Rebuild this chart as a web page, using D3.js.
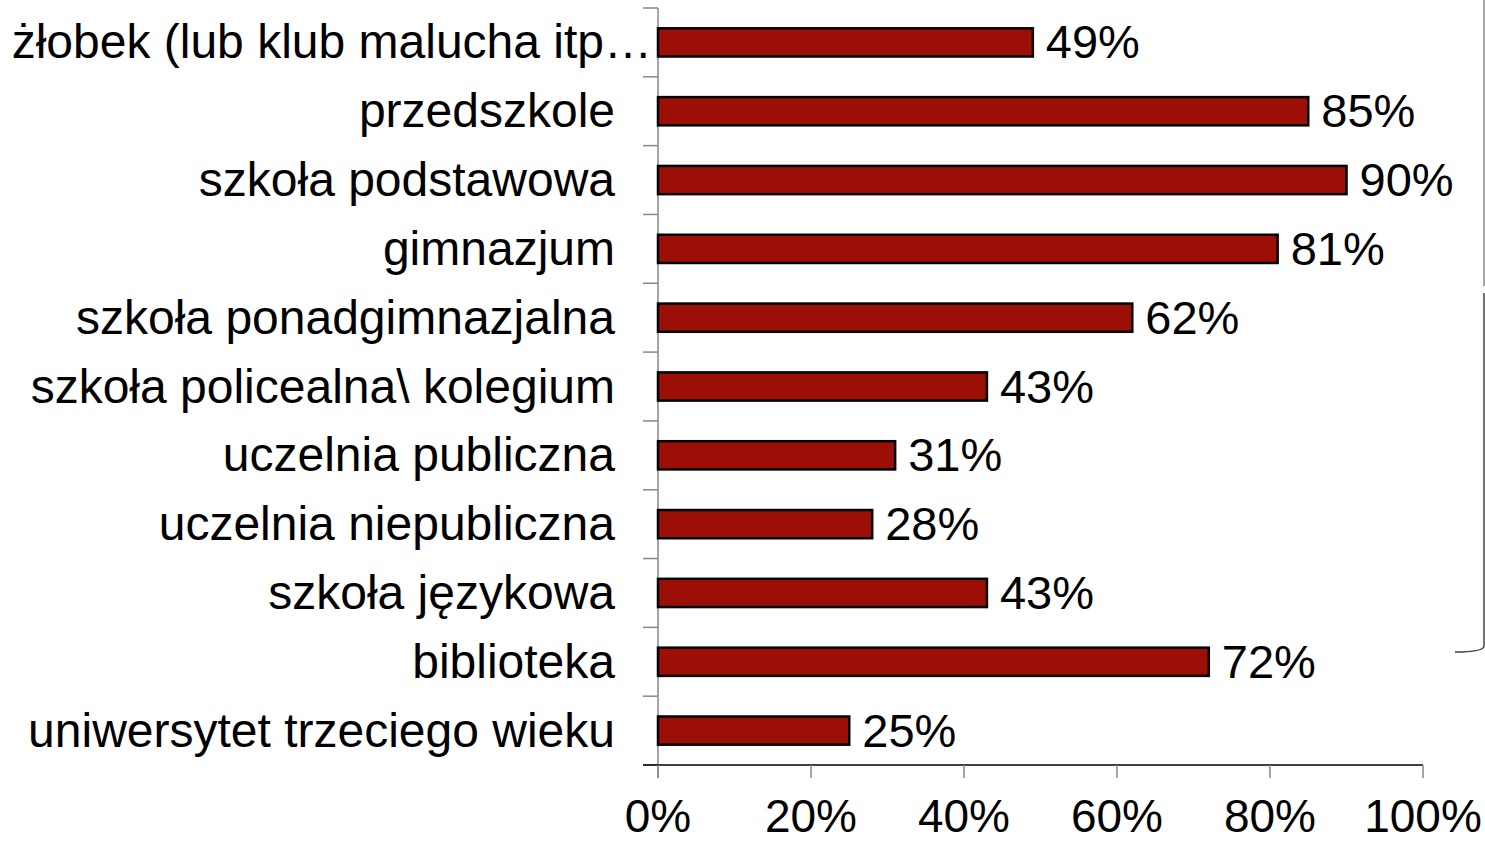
<!DOCTYPE html>
<html><head><meta charset="utf-8">
<script src="https://cdn.jsdelivr.net/npm/d3@7"></script>
<style>body{margin:0;background:#fff}svg{display:block}text{font-family:"Liberation Sans",Arial,sans-serif}</style>
</head><body>
<svg id="c" width="1485" height="841"></svg>
<script>
const categories = ["żłobek (lub klub malucha itp…","przedszkole","szkoła podstawowa","gimnazjum","szkoła ponadgimnazjalna","szkoła policealna\\ kolegium","uczelnia publiczna","uczelnia niepubliczna","szkoła językowa","biblioteka","uniwersytet trzeciego wieku"];
const values = [49,85,90,81,62,43,31,28,43,72,25];
const xTicks = [0,20,40,60,80,100];

const svg = d3.select("#c");
const x = d3.scaleLinear().domain([0,100]).range([658,1423]);
const y = d3.scaleBand().domain(categories).range([8,765]).paddingInner(0.59).paddingOuter(0.295);
const step = y.step();
const boundaries = categories.map(c => y(c) - step*y.paddingInner()/2).concat([765]);

// y axis line
svg.append("line").attr("x1",658).attr("x2",658).attr("y1",8).attr("y2",778).attr("stroke","#888").attr("stroke-width",1.5);
// y ticks at boundaries
svg.selectAll(".yt").data(boundaries).join("line").attr("x1",643).attr("x2",658)
  .attr("y1",d=>d).attr("y2",d=>d).attr("stroke","#888").attr("stroke-width",1.5);
// x axis
svg.append("line").attr("x1",643).attr("x2",1423).attr("y1",765).attr("y2",765).attr("stroke","#000").attr("stroke-width",1.5);
svg.selectAll(".xt").data(xTicks).join("line").attr("x1",d=>x(d)).attr("x2",d=>x(d))
  .attr("y1",765).attr("y2",778).attr("stroke","#888").attr("stroke-width",1.5);
svg.selectAll(".xl").data(xTicks).join("text").attr("x",d=>x(d)).attr("y",832)
  .attr("text-anchor","middle").attr("font-size",46).text(d=>d+"%");

// bars
svg.selectAll(".bar").data(values).join("rect")
  .attr("x",x(0)).attr("y",(d,i)=>y(categories[i]))
  .attr("width",d=>x(d)-x(0)).attr("height",y.bandwidth())
  .attr("fill","#9b0f07").attr("stroke","#000").attr("stroke-width",2.5);
// value labels
svg.selectAll(".vl").data(values).join("text")
  .attr("x",d=>x(d)+13).attr("y",(d,i)=>y(categories[i])+y.bandwidth()/2+16)
  .attr("font-size",47).text(d=>d+"%");
// category labels
svg.selectAll(".cl").data(categories).join("text")
  .attr("x",(d,i)=>i===0?652:615).attr("text-anchor","end")
  .attr("y",d=>y(d)+y.bandwidth()/2+16)
  .attr("font-size",48).text(d=>d);

// stray bracket line on right
svg.append("path").attr("d","M1484,0 L1484,286").attr("stroke","#888").attr("stroke-width",1.5).attr("fill","none");
svg.append("path").attr("d","M1484,293 L1484,646 Q1484,652 1455,652").attr("stroke","#444").attr("stroke-width",1.5).attr("fill","none");
</script>
</body></html>
